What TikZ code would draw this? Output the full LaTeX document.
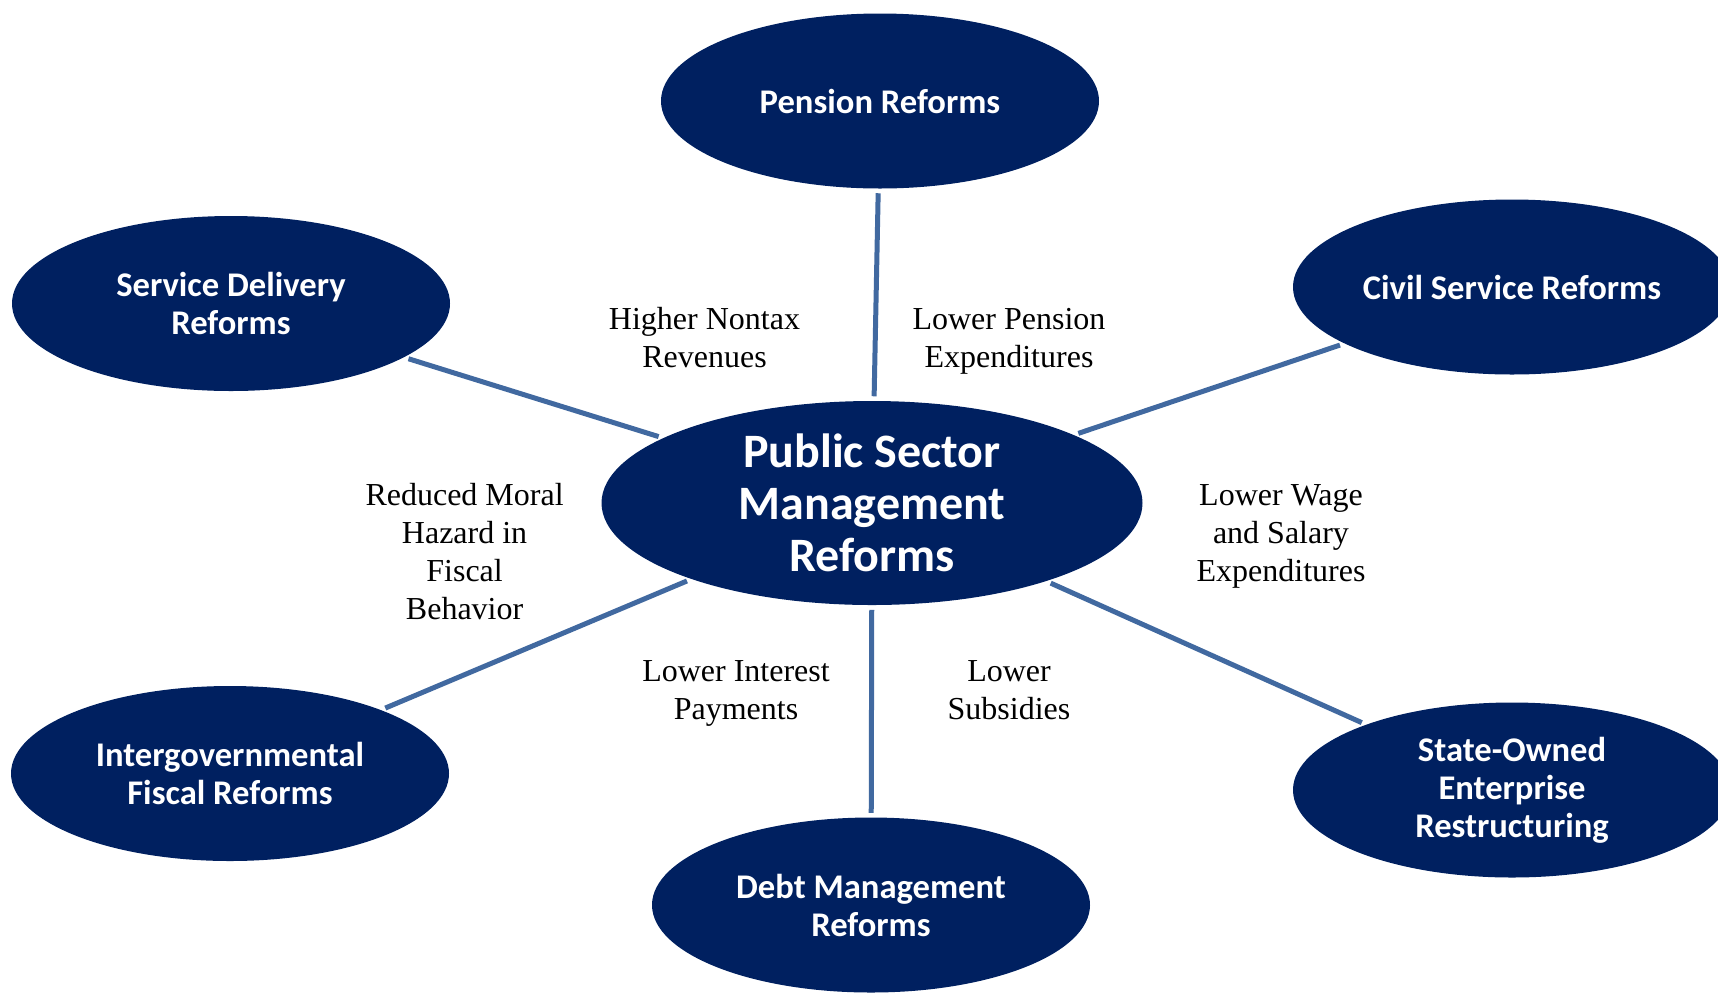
\documentclass[tikz,border=0pt]{standalone}
\usepackage{fontspec}
\setmainfont{Liberation Serif}
\newfontfamily\calibri{Carlito}
\usetikzlibrary{shapes.geometric}

\definecolor{reformnavy}{RGB}{0,32,96}
\definecolor{linkblue}{RGB}{65,105,160}

\tikzset{every picture/.style={line width=0.75pt}}
\tikzset{
  reform/.style={ellipse, fill=reformnavy, text=white, inner sep=0pt,
    minimum width=219pt, minimum height=87.5pt, align=center,
    font=\calibri\bfseries\fontsize{17.3}{19}\selectfont},
  hub/.style={reform, minimum width=270.5pt, minimum height=102pt,
    inner ysep=-6pt, font=\calibri\bfseries\fontsize{24}{26}\selectfont},
  effect/.style={align=center, text=black, inner sep=0pt,
    font=\fontsize{16}{19}\selectfont},
  link/.style={draw=linkblue, line width=2.5pt, shorten <=2pt, shorten >=2pt}
}

\begin{document}
\begin{tikzpicture}[x=0.5pt,y=0.5pt,yscale=-1,xscale=1]
\useasboundingbox (0,0) rectangle (1718,992);

%Ellipses
\node [hub] (psm) at (872,503) {Public Sector\\Management\\Reforms};
\node [reform] (pension) at (880,101) {Pension Reforms};
\node [reform] (service) at (231,303.5) {Service Delivery\\Reforms};
\node [reform] (civil) at (1512,287) {Civil Service Reforms};
\node [reform] (intergov) at (230,773.5) {Intergovernmental\\Fiscal Reforms};
\node [reform] (debt) at (871,905) {Debt Management\\Reforms};
\node [reform] (soe) at (1512,790) {State-Owned\\Enterprise\\Restructuring};

%Connectors
\draw [link] (pension) -- (psm);
\draw [link] (service) -- (psm);
\draw [link] (civil) -- (psm);
\draw [link] (intergov) -- (psm);
\draw [link] (debt) -- (psm);
\draw [link] (soe) -- (psm);

% Text Node
\node [effect] (nontax) at (704.5,337.5) {Higher Nontax\\Revenues};
% Text Node
\node [effect] (pensionexp) at (1009,341) {Lower Pension\\Expenditures};
% Text Node
\node [effect] (moral) at (464.6,552) {Reduced Moral\\Hazard in\\Fiscal\\Behavior};
% Text Node
\node [effect] (wage) at (1281,536.5) {Lower Wage\\and Salary\\Expenditures};
% Text Node
\node [effect] (interest) at (736,693.5) {Lower Interest\\Payments};
% Text Node
\node [effect] (subsidies) at (1009,690) {Lower\\Subsidies};

\end{tikzpicture}
\end{document}
